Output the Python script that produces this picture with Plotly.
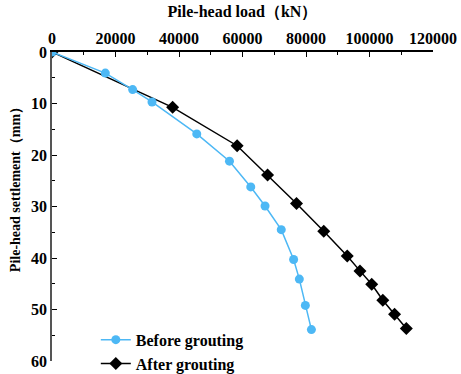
import plotly.graph_objects as go

# Pile-head load (kN) vs settlement (mm)
before_load = [0, 16800, 25400, 31500, 45600, 55900, 62600, 67100, 72200, 76100, 77900, 79800, 81700]
before_settle = [0, 4.1, 7.3, 9.7, 15.9, 21.2, 26.2, 29.9, 34.5, 40.3, 44.1, 49.2, 53.9]

after_load = [0, 38000, 58300, 67900, 77000, 85600, 93000, 97000, 100700, 104200, 107900, 111600]
after_settle = [0, 10.75, 18.2, 23.9, 29.4, 34.8, 39.6, 42.5, 45.1, 48.2, 50.9, 53.7]

x_ticks = [0, 20000, 40000, 60000, 80000, 100000, 120000]
y_ticks = [0, 10, 20, 30, 40, 50, 60]

FONT = "Times New Roman, Liberation Serif, serif"
BLUE = "#4DB8F5"

fig = go.Figure()
fig.add_trace(go.Scatter(
    x=after_load, y=after_settle, mode="lines+markers", name="<b>After grouting</b>",
    line=dict(color="black", width=1.5),
    marker=dict(symbol="diamond", size=10, color="black"),
))
fig.add_trace(go.Scatter(
    x=before_load, y=before_settle, mode="lines+markers", name="<b>Before grouting</b>",
    line=dict(color=BLUE, width=1.5),
    marker=dict(symbol="circle", size=9, color=BLUE),
))

fig.update_layout(
    width=461, height=374,
    margin=dict(l=52, r=28, t=52, b=13, autoexpand=False),
    paper_bgcolor="white", plot_bgcolor="white",
    font=dict(family=FONT, size=16, color="black"),
    showlegend=True,
    legend=dict(
        x=0.115, y=0.03, xanchor="left", yanchor="middle",
        bgcolor="rgba(0,0,0,0)", traceorder="reversed",
        font=dict(family=FONT, size=16, color="black"),
        itemwidth=30, tracegroupgap=0,
    ),
    xaxis=dict(
        side="top", range=[0, 120000], tickvals=x_ticks,
        ticktext=["<b>%d</b>" % v for v in x_ticks],
        showline=True, linecolor="black", linewidth=1.5,
        ticks="inside", ticklen=5, tickwidth=1.2, tickcolor="black",
        minor=dict(ticks="inside", ticklen=3, tickwidth=1, tickcolor="black", dtick=10000),
        showgrid=False, zeroline=False,
        tickfont=dict(family=FONT, size=16),
        title=dict(text="<b>Pile-head load（kN）</b>", standoff=8,
                   font=dict(family=FONT, size=16)),
    ),
    yaxis=dict(
        range=[60, 0], tickvals=y_ticks,
        ticktext=["<b>%d</b>" % v for v in y_ticks],
        showline=True, linecolor="#555555", linewidth=1.5,
        ticks="inside", ticklen=5, tickwidth=1.2, tickcolor="black",
        minor=dict(ticks="inside", ticklen=3, tickwidth=1, tickcolor="black", dtick=5),
        showgrid=False, zeroline=False,
        tickfont=dict(family=FONT, size=16),
    ),
    annotations=[dict(
        text="<b>Pile-head settlement（mm）</b>", textangle=-90,
        xref="paper", yref="paper", x=-0.097, y=0.566,
        xanchor="center", yanchor="middle", showarrow=False,
        font=dict(family=FONT, size=14, color="black"),
    )],
)

fig.write_html("out.html")
